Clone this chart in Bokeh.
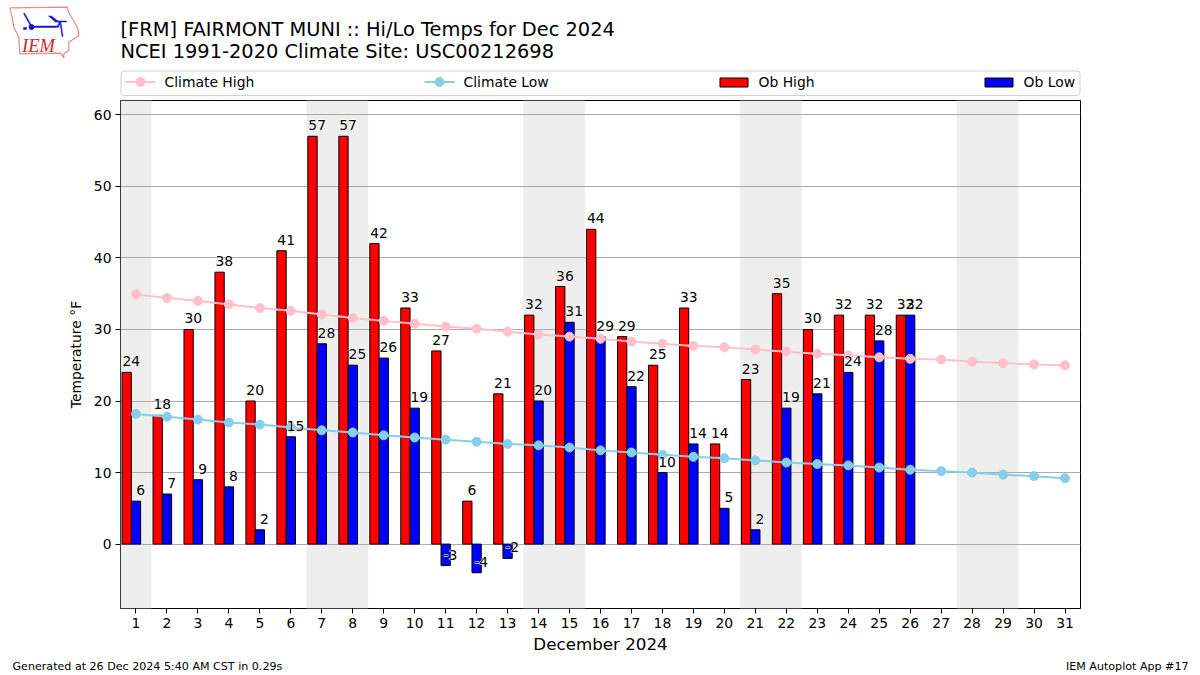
from bokeh.plotting import figure
from bokeh.models import ColumnDataSource, FixedTicker, Quad, Range1d
from bokeh.core.properties import value
from bokeh.embed import file_html
from bokeh.resources import INLINE

days = list(range(1, 32))
ob_high = [24, 18, 30, 38, 20, 41, 57, 57, 42, 33, 27, 6, 21, 32, 36, 44, 29, 25, 33, 14, 23, 35, 30, 32, 32, 32]
ob_low = [6, 7, 9, 8, 2, 15, 28, 25, 26, 19, -3, -4, -2, 20, 31, 29, 22, 10, 14, 5, 2, 19, 21, 24, 28.4, 32]
clim_high = [34.9, 34.4, 34.0, 33.5, 33.0, 32.6, 32.1, 31.6, 31.2, 30.8, 30.4, 30.1, 29.7, 29.3, 29.0, 28.7,
             28.3, 28.0, 27.7, 27.5, 27.2, 26.9, 26.6, 26.4, 26.1, 25.9, 25.8, 25.5, 25.3, 25.1, 25.0]
clim_low = [18.2, 17.8, 17.4, 17.0, 16.7, 16.3, 15.9, 15.6, 15.2, 14.9, 14.6, 14.3, 14.0, 13.8, 13.5, 13.1,
            12.8, 12.5, 12.2, 12.0, 11.7, 11.4, 11.2, 11.0, 10.7, 10.4, 10.2, 10.0, 9.7, 9.5, 9.2]
weekend_start = [0.5, 6.5, 13.5, 20.5, 27.5]
weekend_end = [1.5, 8.5, 15.5, 22.5, 29.5]
y_ticks = [0, 10, 20, 30, 40, 50, 60]
title_lines = ["[FRM] FAIRMONT MUNI :: Hi/Lo Temps for Dec 2024", "NCEI 1991-2020 Climate Site: USC00212698"]

FONT = "DejaVu Sans"
# page layout, in pixels
WIDTH, HEIGHT = 1200, 675
FL, FT, FR, FB = 120, 100, 1080, 608
HEAD_H = 99
FOOT_H = 17


def strip(height, y_top):
    """A figure without axes whose data coordinates are page pixels."""
    f = figure(width=WIDTH, height=height, output_backend="svg", toolbar_location=None,
               x_range=Range1d(0, WIDTH), y_range=Range1d(y_top + height, y_top),
               x_axis_type=None, y_axis_type=None, min_border=0)
    f.outline_line_color = None
    f.background_fill_color = "white"
    f.border_fill_color = "white"
    return f


def put(f, x, y, s, size="13.9px", color="black", font=FONT, **kw):
    f.text(x=[x], y=[y], text=[s], text_font=value(font), text_font_size=size, text_color=color,
           text_baseline="middle", **kw)


# ---- main chart
main_h = HEIGHT - HEAD_H - FOOT_H
p = figure(width=WIDTH, height=main_h, output_backend="svg", toolbar_location=None,
           x_range=Range1d(0.5, 31.5), y_range=Range1d(-9, 62),
           min_border_left=FL, min_border_right=WIDTH - FR, min_border_top=FT - HEAD_H,
           min_border_bottom=HEIGHT - FOOT_H - FB)
p.background_fill_color = "white"
p.border_fill_color = "white"
p.outline_line_color = "black"
p.outline_line_alpha = 1
p.outline_line_width = 1

p.xgrid.visible = False
p.ygrid.ticker = FixedTicker(ticks=y_ticks)
p.ygrid.grid_line_color = "#aaaaaa"
p.ygrid.grid_line_width = 1

p.xaxis.ticker = FixedTicker(ticks=days)
p.yaxis.ticker = FixedTicker(ticks=y_ticks)
for ax in (p.xaxis, p.yaxis):
    ax.axis_line_color = None
    ax.major_tick_line_color = "black"
    ax.major_tick_in = 0
    ax.major_tick_out = 5
    ax.minor_tick_line_color = None
    ax.major_label_text_font = FONT
    ax.major_label_text_font_size = "13.9px"
    ax.major_label_text_color = "black"
    ax.major_label_standoff = 4
    ax.axis_label_text_font = FONT
    ax.axis_label_text_font_style = "normal"
    ax.axis_label_text_color = "black"
p.xaxis.axis_label = "December 2024"
p.xaxis.axis_label_text_font_size = "16.7px"
p.xaxis.axis_label_standoff = 3
p.yaxis.axis_label = "Temperature °F"
p.yaxis.axis_label_text_font_size = "13.9px"
p.yaxis.axis_label_standoff = 7

# weekend bands, below the grid
p.quad(left=weekend_start, right=weekend_end, bottom=-9, top=62, fill_color="#eeeeee",
       line_color=None, level="image")

n = len(ob_high)
hi_x = [d - 0.3 for d in days[:n]]
lo_x = days[:n]
p.vbar(x=hi_x, top=ob_high, bottom=0, width=0.3, fill_color="red", line_color="black", line_width=1)
p.vbar(x=lo_x, top=ob_low, bottom=0, width=0.3, fill_color="blue", line_color="black", line_width=1)

p.line(days, clim_high, line_color="pink", line_width=2)
p.scatter(days, clim_high, marker="circle", size=9, fill_color="pink", line_color="pink")
p.line(days, clim_low, line_color="skyblue", line_width=2)
p.scatter(days, clim_low, marker="circle", size=9, fill_color="skyblue", line_color="skyblue")

hi_src = ColumnDataSource(dict(x=[d - 0.15 for d in days[:n]], y=ob_high, t=[str(int(v)) for v in ob_high]))
lo_src = ColumnDataSource(dict(x=[d + 0.15 for d in days[:n]], y=ob_low, t=[str(int(v)) for v in ob_low]))
common = dict(x="x", y="y", text="t", y_offset=-11, text_font=value(FONT),
              text_font_size="13.9px", text_align="center", text_baseline="middle")
for src in (hi_src, lo_src):
    p.text(source=src, text_color="white", text_outline_color="white", **common)
for src in (hi_src, lo_src):
    p.text(source=src, text_color="black", **common)

# ---- header: logo, title, legend
head = strip(HEAD_H, 0)
put(head, 120, 28.5, title_lines[0], size="19.4px")
put(head, 120, 50.5, title_lines[1], size="19.4px")

radius = {"border_radius": 3} if "border_radius" in Quad.properties() else {}
head.quad(left=[120.5], right=[1079.5], top=[70.5], bottom=[95], fill_color="white",
          line_color="#d0d0d0", line_width=1, **radius)
for x0, col, s in ((125, "pink", "Climate High"), (424, "skyblue", "Climate Low")):
    head.line([x0, x0 + 30], [81.5, 81.5], line_color=col, line_width=2)
    head.scatter([x0 + 15], [81.5], marker="circle", size=9, fill_color=col, line_color=col)
    put(head, x0 + 39, 81, s)
for x0, col, s in ((719.5, "red", "Ob High"), (984.5, "blue", "Ob Low")):
    head.quad(left=[x0], right=[x0 + 28], top=[77.5], bottom=[86.5], fill_color=col, line_color="black",
              line_width=1)
    put(head, x0 + 38.5, 81, s)

outline_x = [9.3, 66.7, 68, 73, 77.3, 78.3, 68.3, 68.3, 63.3, 63.3, 60, 19.3, 18.3, 13.3, 11.7, 9.3]
outline_y = [7.3, 6.7, 11.7, 20, 28, 35, 41.7, 50, 53.3, 57.3, 52.7, 53.3, 36.7, 26.7, 16.7, 7.3]
head.line(outline_x, outline_y, line_color="#e88a8a", line_width=1.2)
blue_parts = [
    [(32, 25.5), (57, 25.5), (57, 27), (32, 27)],
    [(57, 25.5), (59, 21), (60, 21), (58, 27)],
    [(23, 13), (24, 12.5), (31, 25), (30, 25.5)],
    [(48, 15.5), (51, 15.5), (58, 21), (55, 21.5)],
    [(55, 20.5), (66, 20.5), (66, 21.5), (55, 21.5)],
    [(59.5, 22), (60.5, 22), (62.5, 36), (61.5, 36)],
    [(23, 27), (26, 27), (26, 29), (23, 29)],
]
head.patches([[a for a, _ in q] for q in blue_parts], [[b for _, b in q] for q in blue_parts],
             fill_color="#1414d8", line_color="#1414d8", line_width=0.5)
head.scatter([31], [26.5], marker="circle", size=5, fill_color="#1414d8", line_color="#1414d8")
put(head, 21.5, 45, "IEM", size="18.5px", color="#d8232a", font="Liberation Serif", text_font_style="italic")

# ---- footer
foot = strip(FOOT_H, HEIGHT - FOOT_H)
put(foot, 12, 666, "Generated at 26 Dec 2024 5:40 AM CST in 0.29s", size="11.1px")
put(foot, 1188, 666, "IEM Autoplot App #17", size="11.1px", text_align="right")

open("out.html", "w").write(file_html([head, p, foot], INLINE))
